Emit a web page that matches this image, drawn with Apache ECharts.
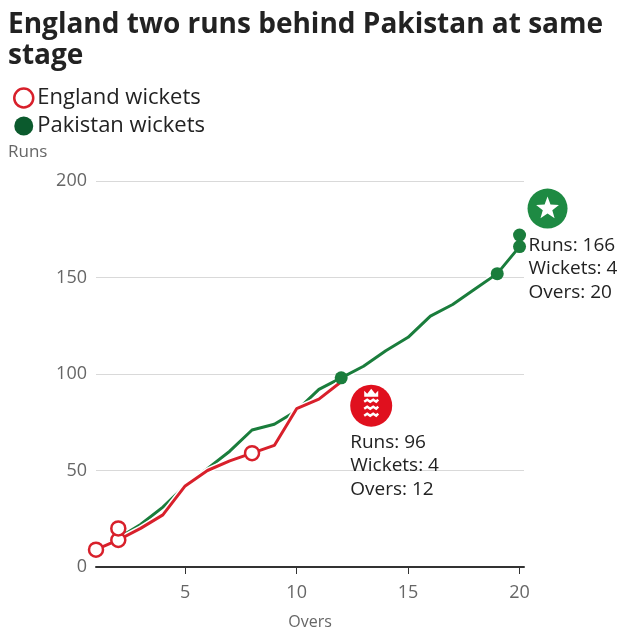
<!DOCTYPE html>
<html>
<head>
<meta charset="utf-8">
<script src="https://cdn.jsdelivr.net/npm/echarts@6/dist/echarts.min.js"></script>
<style>
html,body{margin:0;padding:0;background:#fff;}
#chart{width:640px;height:640px;}
</style>
</head>
<body>
<div id="chart"></div>
<script>
// ---- Data ----
const titleText = "England two runs behind Pakistan at same\nstage";
const xTicks = [5, 10, 15, 20];
const yTicks = [0, 50, 100, 150, 200];

const englandOvers = [1, 2, 3, 4, 5, 6, 7, 8, 9, 10, 11, 12];
const englandRuns  = [9, 14, 20, 27, 42, 50, 55, 59, 63, 82, 87, 96];
const englandWicketOvers = [1, 2, 2, 8];
const englandWicketRuns  = [9, 14, 20, 59];

const pakistanOvers = [1, 2, 3, 4, 5, 6, 7, 8, 9, 10, 11, 12, 13, 14, 15, 16, 17, 18, 19, 20];
const pakistanRuns  = [9, 15, 22, 31, 42, 51, 60, 71, 74, 81, 92, 98, 104, 112, 119, 130, 136, 144, 152, 166];
const pakistanWicketOvers = [12, 19, 20, 20];
const pakistanWicketRuns  = [98, 152, 166, 172];

const englandSummary = { runs: 96, wickets: 4, overs: 12 };
const pakistanSummary = { runs: 166, wickets: 4, overs: 20 };

// ---- Styles ----
const RED = '#d8202b';
const GREEN = '#1a7d3c';
const GREEN_DARK = '#0b5a2d';
const FONT = '"Open Sans", "Noto Sans", sans-serif';

const zip = (xs, ys) => xs.map((x, i) => [x, ys[i]]);

const chart = echarts.init(document.getElementById('chart'), null, { renderer: 'canvas' });

const option = {
  animation: false,
  backgroundColor: '#fff',
  textStyle: { fontFamily: FONT },
  title: {
    text: titleText,
    left: 3, top: 5,
    textStyle: { fontFamily: '"Open Sans", sans-serif', fontWeight: 'bold', fontSize: 28, lineHeight: 31, color: '#222' }
  },
  legend: {
    data: [
      { name: 'England wickets', icon: 'circle', itemStyle: { color: '#fff', borderColor: RED, borderWidth: 2.5, opacity: 1 } },
      { name: 'Pakistan wickets', icon: 'circle', itemStyle: { color: GREEN_DARK, opacity: 1 } }
    ],
    orient: 'vertical',
    left: 8, top: 82,
    itemWidth: 19, itemHeight: 19,
    itemGap: 6,
    textStyle: { fontSize: 22, color: '#222', fontFamily: FONT, padding: [0, 0, 0, -1] },
    selectedMode: false
  },
  grid: { left: 96, right: 116, top: 181, bottom: 73, containLabel: false },
  xAxis: {
    type: 'value',
    min: 1, max: 20.2,
    name: 'Overs',
    nameLocation: 'middle',
    nameGap: 47,
    nameTextStyle: { fontSize: 16, color: '#666', fontFamily: FONT },
    axisLine: { show: true, lineStyle: { color: '#333', width: 2 } },
    axisTick: { show: true, customValues: xTicks, length: 7, lineStyle: { color: '#333', width: 1 } },
    axisLabel: { customValues: xTicks, fontSize: 18, color: '#666', margin: 17, fontFamily: FONT },
    splitLine: { show: false }
  },
  yAxis: {
    type: 'value',
    min: 0, max: 200, interval: 50,
    name: 'Runs',
    nameLocation: 'end',
    nameGap: 20,
    nameTextStyle: { fontSize: 17, color: '#666', align: 'left', padding: [0, 0, 0, -88], fontFamily: FONT },
    axisLine: { show: false },
    axisTick: { show: false },
    axisLabel: { fontSize: 18, color: '#666', margin: 9, fontFamily: FONT },
    splitLine: { show: true, lineStyle: { color: '#d9d9d9', width: 1 } }
  },
  series: [
    { name: 'pakHalo', type: 'line', data: zip(pakistanOvers, pakistanRuns), symbol: 'none', silent: true,
      lineStyle: { color: '#fff', width: 6 }, z: 2 },
    { name: 'Pakistan', type: 'line', data: zip(pakistanOvers, pakistanRuns), symbol: 'none', silent: true,
      lineStyle: { color: GREEN, width: 3 }, z: 2 },
    { name: 'engHalo', type: 'line', data: zip(englandOvers, englandRuns), symbol: 'none', silent: true,
      lineStyle: { color: '#fff', width: 6 }, z: 2 },
    { name: 'England', type: 'line', data: zip(englandOvers, englandRuns), symbol: 'none', silent: true,
      lineStyle: { color: RED, width: 3 }, z: 2 },
    { name: 'England wickets', type: 'scatter', data: zip(englandWicketOvers, englandWicketRuns),
      symbol: 'circle', symbolSize: 14,
      itemStyle: { color: '#fff', borderColor: RED, borderWidth: 2.5, opacity: 1 }, z: 3 },
    { name: 'Pakistan wickets', type: 'scatter', data: zip(pakistanWicketOvers, pakistanWicketRuns),
      symbol: 'circle', symbolSize: 13,
      itemStyle: { color: GREEN, opacity: 1 }, z: 3 }
  ]
};

chart.setOption(option);

// ---- Annotations anchored to data ----
function starPoints(cx, cy, rOut, rIn) {
  const pts = [];
  for (let i = 0; i < 10; i++) {
    const r = i % 2 === 0 ? rOut : rIn;
    const a = -Math.PI / 2 + i * Math.PI / 5;
    pts.push([cx + r * Math.cos(a), cy + r * Math.sin(a)]);
  }
  return pts;
}

const engEnd = chart.convertToPixel({ seriesIndex: 3 }, [englandSummary.overs, englandSummary.runs]);
const pakEnd = chart.convertToPixel({ seriesIndex: 1 }, [pakistanSummary.overs, pakistanSummary.runs]);

const engBadge = [engEnd[0] + 30, engEnd[1] + 24];
const pakBadge = [pakEnd[0] + 28, pakEnd[1] - 38];

const summaryStyle = { fontSize: 19, lineHeight: 23.5, fill: '#222', fontFamily: FONT };

const lionRows = [-4, 3, 10].map(dy => ({
  type: 'polyline',
  shape: { points: [[engBadge[0] - 7, engBadge[1] + dy], [engBadge[0] - 4, engBadge[1] + dy - 2], [engBadge[0] - 1, engBadge[1] + dy], [engBadge[0] + 2, engBadge[1] + dy - 2], [engBadge[0] + 5, engBadge[1] + dy], [engBadge[0] + 7, engBadge[1] + dy - 2]] },
  style: { stroke: '#fff', lineWidth: 2.5, fill: null }
}));

chart.setOption({
  graphic: [
    { type: 'circle', shape: { cx: engBadge[0], cy: engBadge[1], r: 21 }, style: { fill: '#e0101e' }, z: 10 },
    { type: 'polygon', shape: { points: [
        [engBadge[0] - 7, engBadge[1] - 9], [engBadge[0] - 7, engBadge[1] - 15], [engBadge[0] - 4, engBadge[1] - 12],
        [engBadge[0], engBadge[1] - 17], [engBadge[0] + 4, engBadge[1] - 12], [engBadge[0] + 7, engBadge[1] - 15], [engBadge[0] + 7, engBadge[1] - 9]
      ] }, style: { fill: '#fff' }, z: 11 },
    ...lionRows.map(r => Object.assign(r, { z: 11 })),
    { type: 'text', left: engEnd[0] + 9, top: engEnd[1] + 49,
      style: Object.assign({ text: 'Runs: ' + englandSummary.runs + '\nWickets: ' + englandSummary.wickets + '\nOvers: ' + englandSummary.overs }, summaryStyle), z: 10 },

    { type: 'circle', shape: { cx: pakBadge[0], cy: pakBadge[1], r: 20 }, style: { fill: '#1e8a43' }, z: 10 },
    { type: 'polygon', shape: { points: starPoints(pakBadge[0], pakBadge[1], 12, 5) }, style: { fill: '#fff' }, z: 11 },
    { type: 'text', left: pakEnd[0] + 9, top: pakEnd[1] - 13,
      style: Object.assign({ text: 'Runs: ' + pakistanSummary.runs + '\nWickets: ' + pakistanSummary.wickets + '\nOvers: ' + pakistanSummary.overs }, summaryStyle), z: 10 }
  ]
});
</script>
</body>
</html>
